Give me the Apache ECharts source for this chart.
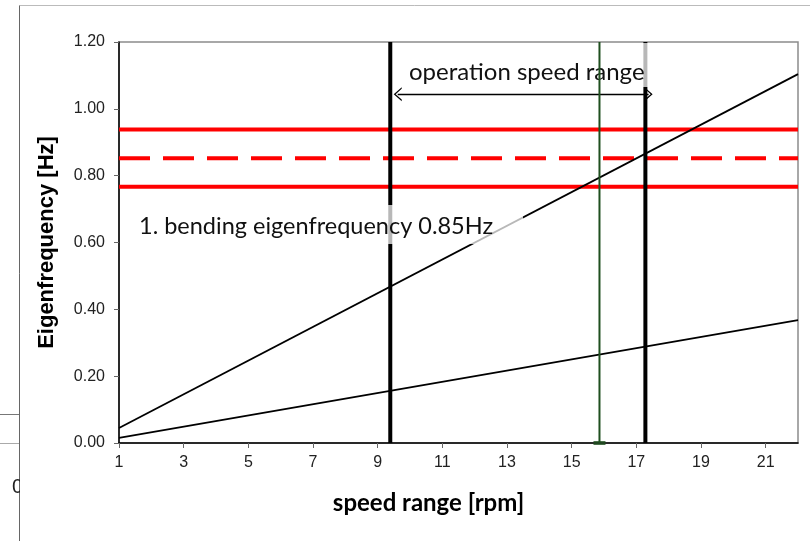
<!DOCTYPE html>
<html>
<head>
<meta charset="utf-8">
<script src="https://cdn.jsdelivr.net/npm/echarts@6/dist/echarts.min.js"></script>
<style>
html, body { margin: 0; padding: 0; background: #fff; }
#chart { width: 810px; height: 541px; }
</style>
</head>
<body>
<div id="chart"></div>
<script>
// speed axis and tick labels
var speedRange = [1, 22];
var speedTicks = [1, 3, 5, 7, 9, 11, 13, 15, 17, 19, 21];
// eigenfrequency lines (start / end of speed range)
var upperLine = [0.045, 1.104];
var lowerLine = [0.015, 0.368];
// 1. bending eigenfrequency band
var bendLow = 0.767;
var bendMid = 0.852;
var bendHigh = 0.938;
// operation speed range limits
var opLimits = [9.39, 17.28];
var greenSpeed = 15.86;
var freqRange = [0, 1.2];
var arrowFreq = 1.044;
var arrowSpan = [9.62, 17.38];

function seg(xs, ys) {
    return [[xs[0], ys[0]], [xs[1], ys[1]]];
}
function hline(v) {
    return seg(speedRange, [v, v]);
}
function vline(v) {
    return seg([v, v], freqRange);
}

var chevron = 'path://M0,10 L5,0 L10,10 L8.8,10 L5,2.4 L1.2,10 Z';

var chart = echarts.init(document.getElementById('chart'));
var option = {
    animation: false,
    grid: {
        left: 119,
        right: 12,
        top: 42,
        bottom: 98,
        show: true,
        borderColor: '#8c8c8c',
        borderWidth: 1.5
    },
    xAxis: {
        type: 'value',
        min: speedRange[0],
        max: speedRange[1],
        name: 'speed range [rpm]',
        nameLocation: 'middle',
        nameGap: 48,
        nameTextStyle: {
            fontFamily: 'Lato',
            fontWeight: 'bold',
            fontSize: 24,
            color: '#000',
            padding: [0, 60, 0, 0]
        },
        axisLine: { show: true, onZero: false, lineStyle: { color: '#000', width: 1.5 } },
        axisTick: { show: true, length: 5, customValues: speedTicks, lineStyle: { color: '#666' } },
        axisLabel: {
            customValues: speedTicks,
            margin: 12,
            fontFamily: 'Liberation Sans',
            fontSize: 16,
            color: '#222'
        },
        splitLine: { show: false }
    },
    yAxis: {
        type: 'value',
        min: 0,
        max: 1.2,
        interval: 0.2,
        name: 'Eigenfrequency [Hz]',
        nameLocation: 'middle',
        nameGap: 61,
        nameTextStyle: {
            fontFamily: 'Liberation Sans',
            fontWeight: 'bold',
            fontSize: 22,
            color: '#000'
        },
        axisLine: { show: true, onZero: false, lineStyle: { color: '#000', width: 1.5 } },
        axisTick: { show: true, length: 5, lineStyle: { color: '#666' } },
        axisLabel: {
            margin: 14,
            fontFamily: 'Liberation Sans',
            fontSize: 16,
            color: '#222',
            formatter: function (v) { return v.toFixed(2); }
        },
        splitLine: { show: false }
    },
    series: [
        {
            type: 'line', symbol: 'none', silent: true,
            lineStyle: { color: '#ff0000', width: 4 },
            data: hline(bendHigh)
        },
        {
            type: 'line', symbol: 'none', silent: true,
            lineStyle: { color: '#ff0000', width: 4, type: [31, 13] },
            data: hline(bendMid)
        },
        {
            type: 'line', symbol: 'none', silent: true,
            lineStyle: { color: '#ff0000', width: 4 },
            data: hline(bendLow)
        },
        {
            type: 'line', symbol: 'none', silent: true,
            lineStyle: { color: '#000', width: 1.8 },
            data: seg(speedRange, upperLine)
        },
        {
            type: 'line', symbol: 'none', silent: true,
            lineStyle: { color: '#000', width: 1.8 },
            data: seg(speedRange, lowerLine)
        },
        {
            type: 'line', symbol: 'none', silent: true, z: 30,
            lineStyle: { color: '#1f4f1f', width: 2 },
            data: vline(greenSpeed)
        },
        {
            type: 'scatter', silent: true, z: 30,
            symbol: 'rect', symbolSize: [12, 4],
            itemStyle: { color: '#1f4f1f' },
            data: [[greenSpeed, 0]]
        },
        {
            type: 'line', symbol: 'none', silent: true,
            lineStyle: { color: '#000', width: 4 },
            data: vline(opLimits[0])
        },
        {
            type: 'line', symbol: 'none', silent: true,
            lineStyle: { color: '#000', width: 4 },
            data: vline(opLimits[1]),
            markLine: {
                silent: true,
                symbol: [chevron, chevron],
                symbolSize: [14, 8],
                label: { show: false },
                lineStyle: { color: '#000', width: 1.3, type: 'solid' },
                data: [[
                    { coord: [arrowSpan[0], arrowFreq] },
                    { coord: [arrowSpan[1], arrowFreq] }
                ]]
            }
        }
    ],
    graphic: [
        {
            type: 'text', left: 399, top: 43, silent: true, z: 20,
            style: {
                text: 'operation speed range',
                fontFamily: 'Lato', fontSize: 24, fill: '#111',
                backgroundColor: 'rgba(255,255,255,0.72)',
                padding: [17, 8, 3, 10]
            }
        },
        {
            type: 'text', left: 129, top: 205, silent: true, z: 20,
            style: {
                text: '1. bending eigenfrequency 0.85Hz',
                fontFamily: 'Lato', fontSize: 23.5, fill: '#111',
                backgroundColor: 'rgba(255,255,255,0.72)',
                padding: [9, 30, 6, 10]
            }
        },
        // surrounding frame of the original sheet
        { type: 'line', silent: true, shape: { x1: 19.5, y1: 5.5, x2: 810, y2: 5.5 }, style: { stroke: '#bbb', lineWidth: 1 } },
        { type: 'line', silent: true, shape: { x1: 19.5, y1: 5.5, x2: 19.5, y2: 541 }, style: { stroke: '#666', lineWidth: 1 } },
        { type: 'line', silent: true, shape: { x1: 0, y1: 414.5, x2: 19, y2: 414.5 }, style: { stroke: '#777', lineWidth: 1 } },
        { type: 'line', silent: true, shape: { x1: 0, y1: 443.5, x2: 19, y2: 443.5 }, style: { stroke: '#aaa', lineWidth: 1 } },
        {
            type: 'text', left: 12, top: 477, silent: true,
            style: { text: '0', fontFamily: 'Liberation Sans', fontSize: 20, fill: '#222' }
        },
        { type: 'rect', silent: true, shape: { x: 20, y: 472, width: 14, height: 32 }, style: { fill: '#fff' } }
    ]
};
chart.setOption(option);
</script>
</body>
</html>
